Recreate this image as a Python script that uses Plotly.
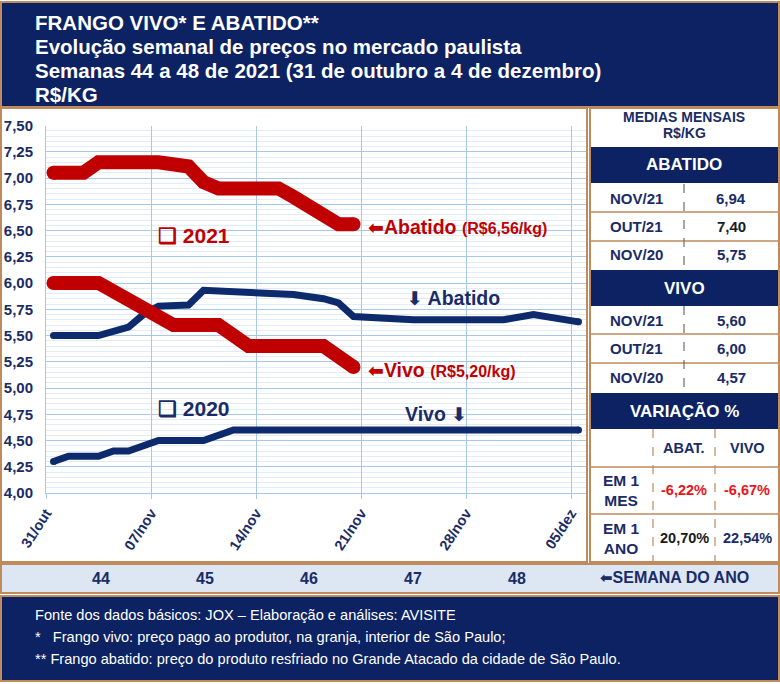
import plotly.graph_objects as go

W, H = 780, 684


def fx(x):
    return x / W


def fy(y):
    return 1 - y / H


# ---------------- data ----------------
date_tick_days = [0, 7, 14, 21, 28, 35]
date_tick_labels = ["31/out", "07/nov", "14/nov", "21/nov", "28/nov", "05/dez"]
week_numbers = ["44", "45", "46", "47", "48"]

abatido_2021_days = [0, 2, 3, 7, 9, 10, 11, 15, 16, 17, 18, 19, 20]
abatido_2021 = [7.05, 7.05, 7.15, 7.15, 7.11, 6.96, 6.90, 6.90, 6.82, 6.72, 6.62, 6.56, 6.56]

vivo_2021_days = [0, 3, 8, 11, 13, 18, 20]
vivo_2021 = [6.00, 6.00, 5.60, 5.60, 5.40, 5.40, 5.20]

abatido_2020_days = [0, 3, 5, 6, 7, 9, 10, 14, 16, 18, 19, 20, 21, 24, 30, 32, 35]
abatido_2020 = [5.50, 5.50, 5.58, 5.70, 5.78, 5.79, 5.93, 5.90, 5.89, 5.85, 5.81, 5.68, 5.67,
                5.65, 5.65, 5.70, 5.63]

vivo_2020_days = [0, 1, 3, 4, 5, 7, 10, 12, 35]
vivo_2020 = [4.30, 4.35, 4.35, 4.40, 4.40, 4.50, 4.50, 4.60, 4.60]

table_abatido_labels = ["NOV/21", "OUT/21", "NOV/20"]
table_abatido_values = ["6,94", "7,40", "5,75"]
table_vivo_labels = ["NOV/21", "OUT/21", "NOV/20"]
table_vivo_values = ["5,60", "6,00", "4,57"]
var_rows = ["EM 1<br>MES", "EM 1<br>ANO"]
var_abat = ["-6,22%", "20,70%"]
var_vivo = ["-6,67%", "22,54%"]

# ---------------- style ----------------
NAVY = "#0c2262"
TXT = "#1a2b66"
RED = "#c00000"
BLUE = "#0d2a6c"
BROWN = "#bf8a5c"
GRID = "#a9c7e8"
MINOR = "#e2ecf7"
FONT = "Liberation Sans, Arial, sans-serif"
ARROWFONT = "DejaVu Sans"

fig = go.Figure()


def add_line(days, vals, color, width):
    fig.add_trace(go.Scatter(x=days, y=vals, mode="lines",
                             line=dict(color=color, width=width),
                             hoverinfo="skip", showlegend=False))
    fig.add_trace(go.Scatter(x=[days[0], days[-1]], y=[vals[0], vals[-1]], mode="markers",
                             marker=dict(color=color, size=width),
                             hoverinfo="skip", showlegend=False))


add_line(abatido_2020_days, abatido_2020, BLUE, 7)
add_line(vivo_2020_days, vivo_2020, BLUE, 7)
add_line(abatido_2021_days, abatido_2021, RED, 14)
add_line(vivo_2021_days, vivo_2021, RED, 14)

shapes = []


def rect(x0, y0, x1, y1, fill=None, line=None, lw=2):
    d = dict(type="rect", xref="paper", yref="paper",
             x0=fx(x0), x1=fx(x1), y0=fy(y1), y1=fy(y0), layer="above",
             line=dict(color=line if line else "rgba(0,0,0,0)", width=lw if line else 0))
    if fill:
        d["fillcolor"] = fill
    shapes.append(d)


def hline(x0, x1, y, color=BROWN, lw=2, dash=None):
    shapes.append(dict(type="line", xref="paper", yref="paper", x0=fx(x0), x1=fx(x1),
                       y0=fy(y), y1=fy(y), layer="above",
                       line=dict(color=color, width=lw, dash=dash or "solid")))


def vline(x, y0, y1, color=BROWN, lw=2, dash=None):
    shapes.append(dict(type="line", xref="paper", yref="paper", x0=fx(x), x1=fx(x),
                       y0=fy(y0), y1=fy(y1), layer="above",
                       line=dict(color=color, width=lw, dash=dash or "solid")))


# header
rect(1, 2, 779, 107, fill=NAVY, line=BROWN, lw=2)
# chart panel
rect(1, 108, 587, 562, line=BROWN, lw=2)
# table
rect(590, 108, 779, 562, line=BROWN, lw=2)
rect(591, 147, 778, 183, fill=NAVY)
rect(591, 270, 778, 306, fill=NAVY)
rect(591, 393, 778, 429, fill=NAVY)
for yy in [212, 241, 334, 363, 467, 514]:
    hline(590, 779, yy, lw=1.5)
vline(684, 184, 270, color="#7a6a5a", lw=1.2, dash="dash")
vline(684, 306, 392, color="#7a6a5a", lw=1.2, dash="dash")
vline(653, 429, 562, color=BROWN, lw=1.2, dash="dash")
vline(715, 429, 562, color=BROWN, lw=1.2, dash="dash")
# week row
rect(1, 564, 779, 593, fill="#dce7f3", line=BROWN, lw=2)
# footer
rect(1, 596, 779, 681, fill=NAVY, line=BROWN, lw=2)

ann = []


def text(x, y, s, size, color, bold=True, xanchor="left", font=FONT):
    ann.append(dict(xref="paper", yref="paper", x=fx(x), y=fy(y), text=(f"<b>{s}</b>" if bold else s),
                    showarrow=False, xanchor=xanchor, yanchor="middle",
                    font=dict(family=font, size=size, color=color)))


def arrow(ch, size):
    return f"<span style='font-family:{ARROWFONT};font-size:{size}px'>{ch}</span>"


# header texts
text(33, 22, "FRANGO VIVO* E ABATIDO**", 20.5, "white")
text(33, 46, "Evolução semanal de preços no mercado paulista", 20.5, "white")
text(33, 71, "Semanas 44 a 48 de 2021 (31 de outubro a 4 de dezembro)", 20.5, "white")
text(33, 95, "R$/KG", 20.5, "white")

# footer texts
text(33, 615, "Fonte dos dados básicos: JOX – Elaboração e análises: AVISITE", 14.6, "white", bold=False)
text(33, 637, "*   Frango vivo: preço pago ao produtor, na granja, interior de São Paulo;", 14.6, "white", bold=False)
text(33, 659, "** Frango abatido: preço do produto resfriado no Grande Atacado da cidade de São Paulo.", 14.6, "white", bold=False)

# week row
for i, wk in enumerate(week_numbers):
    text(101 + i * 104, 578, wk, 16, TXT, xanchor="center")
text(598, 578, arrow("⬅", 15) + "SEMANA DO ANO", 16, TXT)

# chart labels
text(156, 235, "❑ 2021", 21, RED)
text(156, 408, "❑ 2020", 21, TXT)
text(366, 227, arrow("⬅", 19) + "Abatido <span style='font-size:16px'>(R$6,56/kg)</span>", 19.5, RED)
text(366, 370, arrow("⬅", 19) + "Vivo <span style='font-size:16px'>(R$5,20/kg)</span>", 19.5, RED)
text(405, 298, arrow("⬇", 19) + " Abatido", 19.5, TXT)
text(403, 414, "Vivo " + arrow("⬇", 19), 19.5, TXT)

# table texts
text(684, 117, "MEDIAS MENSAIS", 14, TXT, xanchor="center")
text(684, 133, "R$/KG", 14, TXT, xanchor="center")
text(684, 165, "ABATIDO", 17, "white", xanchor="center")
for i, (lab, val) in enumerate(zip(table_abatido_labels, table_abatido_values)):
    yy = 198 + i * 28.5
    text(636, yy, lab, 15, TXT, xanchor="center")
    text(731, yy, val, 15, "#1a1a2a" if i == 1 else TXT, xanchor="center")
text(684, 288, "VIVO", 17, "white", xanchor="center")
for i, (lab, val) in enumerate(zip(table_vivo_labels, table_vivo_values)):
    yy = 320 + i * 28.5
    text(636, yy, lab, 15, TXT, xanchor="center")
    text(731, yy, val, 15, TXT, xanchor="center")
text(684, 411, "VARIAÇÃO %", 17, "white", xanchor="center")
text(684, 448, "ABAT.", 14.5, TXT, xanchor="center")
text(747, 448, "VIVO", 14.5, TXT, xanchor="center")
for i, (r, a, v) in enumerate(zip(var_rows, var_abat, var_vivo)):
    yy = 490 + i * 48
    text(621, yy, r, 15.5, TXT, xanchor="center")
    ca = "#e8141b" if a.startswith("-") else "#1a1a1a"
    cv = "#e8141b" if v.startswith("-") else TXT
    text(684, yy, a, 14.5, ca, xanchor="center")
    text(747, yy, v, 14.5, cv, xanchor="center")

fig.update_layout(
    width=W, height=H, autosize=False,
    margin=dict(l=0, r=0, t=0, b=0, pad=0),
    paper_bgcolor="white", plot_bgcolor="white",
    separators=",.",
    shapes=shapes, annotations=ann,
    showlegend=False,
    xaxis=dict(domain=[fx(46), fx(586)], range=[-0.5, 35.5], automargin=False,
               tickvals=[d - 0.5 for d in date_tick_days], ticktext=date_tick_labels,
               tickangle=-57, ticks="outside", ticklen=5, tickcolor=GRID,
               showgrid=True, gridcolor=GRID, gridwidth=1,
               showline=True, linecolor=GRID, linewidth=1,
               zeroline=False, fixedrange=True,
               tickfont=dict(family=FONT, size=14.5, color=TXT, weight="bold")),
    yaxis=dict(domain=[fy(493), fy(125.5)], range=[4, 7.5], automargin=False,
               dtick=0.25, tick0=4, tickformat=".2f",
               showgrid=True, gridcolor=GRID, gridwidth=1,
               minor=dict(dtick=0.05, showgrid=True, gridcolor=MINOR, gridwidth=1),
               showline=True, linecolor=GRID, linewidth=1,
               zeroline=False, ticks="", ticklabelstandoff=9, fixedrange=True,
               tickfont=dict(family=FONT, size=15, color=TXT, weight="bold")),
)

fig.write_html(
    "out.html",
    config={"displayModeBar": False},
    post_script="document.body.style.margin='0';document.documentElement.style.overflow='hidden';document.body.style.overflow='hidden';",
)
